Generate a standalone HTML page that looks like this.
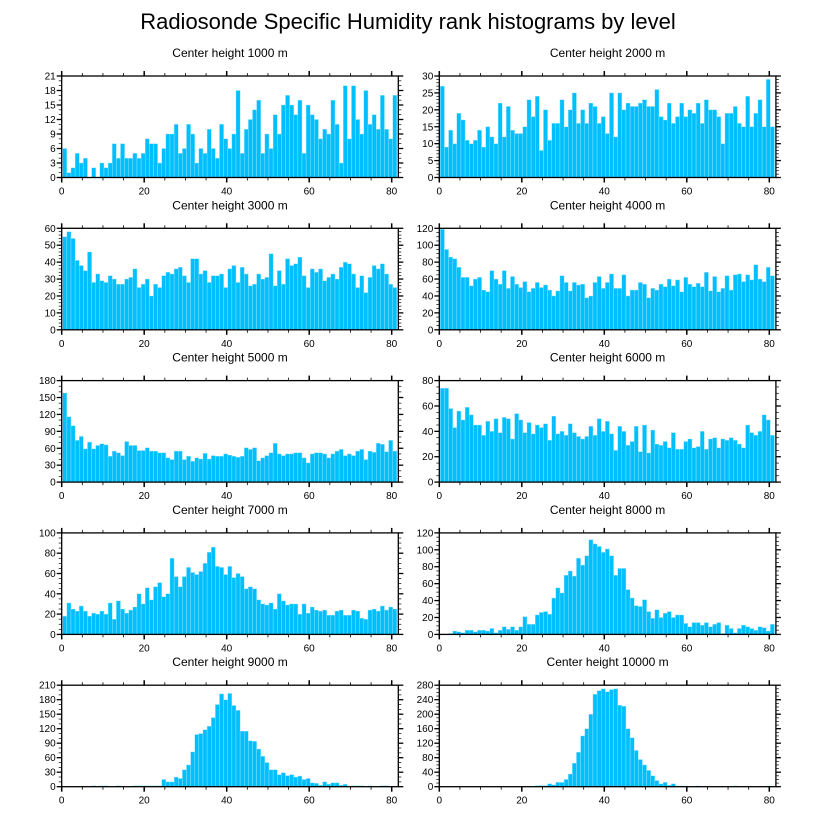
<!DOCTYPE html>
<html><head><meta charset="utf-8"><style>
body{margin:0;background:#fff;}
svg{display:block;font-family:"Liberation Sans",sans-serif;}
</style></head><body>
<svg id="chart" width="816" height="824" viewBox="0 0 816 824">
<text x="408" y="29" text-anchor="middle" font-size="22">Radiosonde Specific Humidity rank histograms by level</text>
</svg>
<script>
const titles=["Center height 1000 m","Center height 2000 m","Center height 3000 m","Center height 4000 m","Center height 5000 m","Center height 6000 m","Center height 7000 m","Center height 8000 m","Center height 9000 m","Center height 10000 m"];
const yMax=[21,30,60,120,180,80,100,120,210,280];
const yStep=[3,5,10,20,30,20,20,20,30,40];
const yMinor=[1,1,2,5,10,5,5,5,10,10];
const xTicks=[0,20,40,60,80];
const h1000=[6,1,2,5,3,4,0,2,0,3,2,3,7,4,7,4,4,5,4,5,8,7,7,3,6,9,9,11,5,6,11,9,3,6,5,10,6,4,11,8,6,9,18,5,10,12,14,16,5,9,6,13,9,15,17,15,13,16,5,15,13,12,8,10,9,16,11,3,19,8,19,12,9,18,11,13,10,17,10,8,17];
const h2000=[27,9,14,10,19,17,11,10,11,14,9,15,12,10,22,12,21,14,13,13,15,23,18,24,8,20,11,16,16,23,15,20,25,16,20,16,22,21,16,18,13,25,12,25,20,22,21,21,22,23,21,21,26,18,17,22,16,18,22,18,20,19,22,16,23,20,20,18,10,19,19,21,16,15,24,15,19,23,15,29,15];
const h3000=[55,58,54,41,38,35,46,28,33,29,28,32,30,27,27,30,31,36,25,27,30,20,27,25,32,34,33,36,37,32,28,42,42,33,35,28,32,32,33,25,36,38,28,37,33,26,27,33,30,31,45,26,35,27,42,38,39,43,32,25,36,34,36,29,31,33,30,37,40,39,33,25,32,22,31,38,36,39,33,27,25];
const h4000=[119,95,86,84,74,62,62,52,60,62,47,45,70,60,54,70,49,63,54,50,57,45,49,56,50,53,47,40,46,64,56,46,56,53,54,38,40,56,63,49,56,66,49,49,65,40,47,47,56,54,38,49,47,54,51,60,52,59,45,62,54,51,55,51,68,46,63,45,49,64,47,65,66,57,65,59,77,60,57,74,64];
const h5000=[158,116,100,74,81,59,71,59,65,68,66,46,55,52,47,72,65,65,56,56,61,55,55,52,52,43,40,55,55,40,46,37,43,41,51,41,47,46,46,50,48,46,44,46,61,58,61,38,43,47,52,69,50,47,50,50,52,52,43,34,50,52,52,50,43,50,55,58,47,50,47,55,58,40,55,53,69,67,54,74,55];
const h6000=[74,74,58,43,56,49,59,53,45,45,37,48,40,50,39,51,50,34,54,49,39,47,38,45,43,46,33,52,38,40,37,46,39,36,34,36,44,37,50,40,48,38,25,44,40,29,32,44,24,45,23,41,30,29,32,27,39,26,26,32,34,27,28,40,26,34,35,27,34,33,35,33,30,27,45,39,37,40,53,49,37];
const h7000=[18,31,25,23,28,23,18,21,20,23,20,31,15,33,25,21,24,27,40,30,46,34,47,51,37,40,75,57,47,57,66,61,59,62,70,81,86,67,66,59,67,56,60,57,45,47,45,34,30,29,31,25,40,33,29,30,30,20,30,21,27,24,23,24,19,19,23,24,19,19,24,23,16,15,24,25,23,28,24,27,25];
const h8000=[0,0,1,4,3,2,5,5,3,5,5,4,7,2,5,9,6,9,5,9,21,12,12,23,26,27,24,43,55,49,70,75,69,90,82,93,112,107,104,97,101,93,70,78,78,53,43,34,33,41,27,19,29,20,25,27,20,23,23,13,9,14,14,11,14,9,12,14,1,11,7,2,7,11,9,7,5,9,8,4,12];
const h9000=[0,0,0,0,0,0,0,2,0,2,2,0,0,2,0,0,0,2,2,2,2,2,2,2,15,10,10,20,17,35,45,72,108,110,118,125,143,170,192,180,193,168,158,115,115,95,94,78,63,50,35,35,25,29,23,25,20,22,15,17,8,7,3,10,5,8,8,3,5,0,2,2,2,0,2,0,0,2,2,0,0];
const h10000=[0,0,0,0,0,0,0,0,0,0,0,0,0,0,0,0,0,0,0,0,0,0,0,3,3,3,8,5,12,12,20,35,65,95,140,160,200,255,265,270,262,268,270,225,222,160,135,100,75,60,45,30,17,8,12,4,8,2,2,2,0,0,2,0,0,0,0,0,0,0,0,2,0,0,0,0,0,0,0,2,0];
const series=[h1000,h2000,h3000,h4000,h5000,h6000,h7000,h8000,h9000,h10000];

const NS="http://www.w3.org/2000/svg";
const svg=document.getElementById('chart');
const XMAX=81.6, PW=336.6, PH=101.5;
function mk(tag,attrs,parent){const e=document.createElementNS(NS,tag);for(const k in attrs)e.setAttribute(k,attrs[k]);parent.appendChild(e);return e;}
for(let p=0;p<10;p++){
  const col=p%2,row=Math.floor(p/2);
  const x0=col?439.3:61.7, y0=76+row*152.3;
  const sx=v=>x0+v/XMAX*PW;
  const sy=v=>y0+PH-v/yMax[p]*PH;
  const g=mk('g',{},svg);
  
  
  const t=mk('text',{x:x0+PW/2,y:y0-19,'text-anchor':'middle','font-size':'12'},g);
  t.textContent=titles[p];
  
  
  const data=series[p];
  for(let k=0;k<data.length;k++){
    const v=Math.min(data[k],yMax[p]);
    if(v<=0)continue;
    const r=mk('rect',{x:sx(k+0.25),y:sy(v),width:sx(k+1.25)-sx(k+0.25),height:sy(0)-sy(v),fill:'#00BFFF',stroke:'#9fe6ff','stroke-width':'0.4'},g);
    
    
  }
  const f=mk('rect',{x:x0,y:y0,width:PW,height:PH,fill:'none',stroke:'#000','stroke-width':'1.3'},g);
  
  
  for(let v=0;v<=80;v+=5){
    const major=v%20===0, L=major?5:3;
    const X=sx(v);
    mk('line',{x1:X,x2:X,y1:y0+PH,y2:y0+PH+L,stroke:'#000','stroke-width':major?1.5:0.8},g);
    mk('line',{x1:X,x2:X,y1:y0,y2:y0-L,stroke:'#000','stroke-width':major?1.5:0.8},g);
  }
  xTicks.forEach(v=>{
    const tl=mk('text',{x:sx(v),y:y0+PH+17,'text-anchor':'middle','font-size':'10'},g);
    tl.textContent=v;
    
    
  });
  for(let v=0;v<=yMax[p]+1e-9;v+=yMinor[p]){
    const major=Math.abs(v/yStep[p]-Math.round(v/yStep[p]))<1e-6, L=major?5:3;
    const Y=sy(v);
    mk('line',{x1:x0,x2:x0-L,y1:Y,y2:Y,stroke:'#000','stroke-width':major?1.3:0.7},g);
    mk('line',{x1:x0+PW,x2:x0+PW+L,y1:Y,y2:Y,stroke:'#000','stroke-width':major?1.3:0.7},g);
    if(major){
      const yl=mk('text',{x:x0-6,y:Y+3.5,'text-anchor':'end','font-size':'10'},g);
      yl.textContent=Math.round(v);
      
      
    }
  }
}
</script>
</body></html>
